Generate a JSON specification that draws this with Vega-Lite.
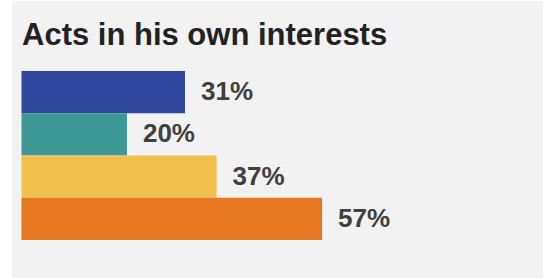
{
  "$schema": "https://vega.github.io/schema/vega-lite/v6.json",
  "autosize": {"type": "none"},
  "padding": {"left": 12, "top": 1, "right": 0, "bottom": 0},
  "width": 531,
  "height": 277,
  "background": "#ffffff",
  "config": {"view": {"fill": "#f2f2f2", "stroke": null}},
  "title": {
    "text": "Acts in his own interests",
    "anchor": "start",
    "frame": "group",
    "orient": "top",
    "offset": -44,
    "dy": 31,
    "baseline": "alphabetic",
    "dx": 10,
    "font": "Liberation Sans",
    "fontSize": 31,
    "fontWeight": "bold",
    "color": "#222222"
  },
  "data": {
    "values": [
      {"group": "Group 1", "value": 31, "label": "31%"},
      {"group": "Group 2", "value": 20, "label": "20%"},
      {"group": "Group 3", "value": 37, "label": "37%"},
      {"group": "Group 4", "value": 57, "label": "57%"}
    ]
  },
  "encoding": {
    "y": {
      "field": "group",
      "type": "nominal",
      "sort": null,
      "axis": null,
      "scale": {"paddingInner": 0, "paddingOuter": 0, "range": [70, 239]}
    }
  },
  "layer": [
    {
      "mark": {"type": "bar"},
      "encoding": {
        "x": {"field": "value", "type": "quantitative", "axis": null, "scale": {"domain": [-1.8, 98.9], "nice": false, "zero": false}},
        "x2": {"datum": 0},
        "color": {
          "field": "group",
          "type": "nominal",
          "legend": null,
          "scale": {"domain": ["Group 1", "Group 2", "Group 3", "Group 4"], "range": ["#2f479c", "#3e9896", "#f0bf4c", "#e77720"]}
        }
      }
    },
    {
      "mark": {"type": "text", "align": "left", "baseline": "middle", "dx": 16, "font": "Liberation Sans", "fontSize": 26, "fontWeight": "bold", "color": "#404040"},
      "encoding": {
        "x": {"field": "value", "type": "quantitative"},
        "text": {"field": "label"}
      }
    }
  ]
}
